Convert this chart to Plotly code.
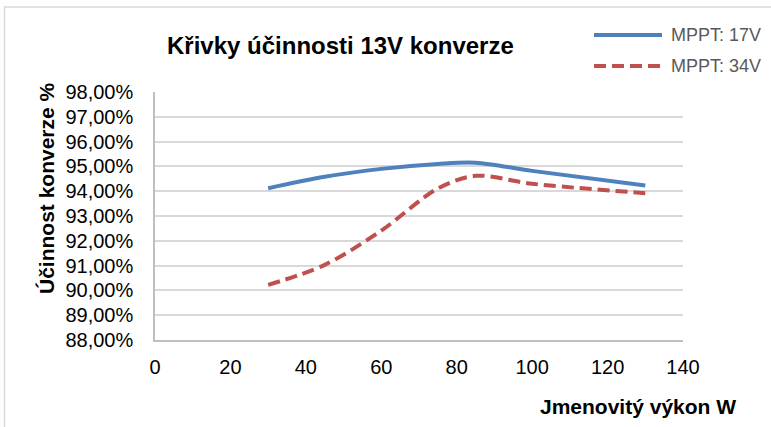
import plotly.graph_objects as go

# Load (W) at which efficiency was measured
load_w = [30, 45, 60, 75, 85, 100, 130]

# Conversion efficiency in %, MPPT 17 V and MPPT 34 V
eff_17v = [94.12, 94.58, 94.90, 95.10, 95.15, 94.82, 94.23]
eff_34v = [90.22, 91.03, 92.41, 94.11, 94.62, 94.30, 93.92]

series_names = ["MPPT: 17V", "MPPT: 34V"]
series_colors = ["#4f81bd", "#c0504d"]
series_dash = ["solid", "12px,6px"]

y_ticks = [88, 89, 90, 91, 92, 93, 94, 95, 96, 97, 98]
x_ticks = [0, 20, 40, 60, 80, 100, 120, 140]

FONT = "Liberation Sans, Arial, sans-serif"

W, H = 771, 427
ML, MR, MT, MB = 155, 88, 92, 87
PW, PH = W - ML - MR, H - MT - MB


def px_x(px):
    return (px - ML) / PW


def px_y(py):
    return (H - MB - py) / PH


fig = go.Figure()
for ys, name, col, dash in zip([eff_17v, eff_34v], series_names, series_colors, series_dash):
    fig.add_trace(go.Scatter(
        x=load_w, y=ys, name=name, mode="lines",
        line=dict(color=col, width=4, dash=dash, shape="spline", smoothing=0.9),
        showlegend=False,
    ))

# outer chart frame
fig.add_shape(type="rect", xref="paper", yref="paper",
              x0=px_x(4.5), x1=px_x(W + 10), y0=px_y(H + 10), y1=px_y(7),
              line=dict(color="#d9d9d9", width=1.5), fillcolor="rgba(0,0,0,0)", layer="below")

# legend drawn at the top right
legend_rows = [35, 66]
for row_y, name, col, dash in zip(legend_rows, series_names, series_colors, series_dash):
    fig.add_shape(type="line", xref="paper", yref="paper",
                  x0=px_x(594), x1=px_x(662), y0=px_y(row_y), y1=px_y(row_y),
                  line=dict(color=col, width=4, dash=dash))
    fig.add_annotation(xref="paper", yref="paper", x=px_x(669), y=px_y(row_y),
                       xanchor="left", yanchor="middle", showarrow=False, text=name,
                       font=dict(family=FONT, size=18, color="#595959"))

fig.add_annotation(xref="paper", yref="paper", x=px_x(340), y=px_y(45),
                   xanchor="center", yanchor="middle", showarrow=False,
                   text="<b>Křivky účinnosti 13V konverze</b>",
                   font=dict(family=FONT, size=24, color="#000000"))

fig.add_annotation(xref="paper", yref="paper", x=px_x(738), y=px_y(407),
                   xanchor="right", yanchor="middle", showarrow=False,
                   text="<b>Jmenovitý výkon W</b>",
                   font=dict(family=FONT, size=21, color="#000000"))

fig.add_annotation(xref="paper", yref="paper", x=px_x(46), y=px_y(188),
                   xanchor="center", yanchor="middle", showarrow=False, textangle=-90,
                   text="<b>Účinnost konverze %</b>",
                   font=dict(family=FONT, size=21, color="#000000"))

fig.update_layout(
    width=W, height=H,
    margin=dict(l=ML, r=MR, t=MT, b=MB),
    paper_bgcolor="white", plot_bgcolor="white",
    separators=", ",
    font=dict(family=FONT, size=20, color="#000000"),
)
fig.update_xaxes(
    range=[0, 140], tickvals=x_ticks, ticktext=[str(v) for v in x_ticks],
    showgrid=False, zeroline=False,
    showline=True, linecolor="#bfbfbf", linewidth=1.5,
    ticks="", ticklabelstandoff=8,
    tickfont=dict(family=FONT, size=20, color="#000000"),
)
fig.update_yaxes(
    range=[88, 98], tickvals=y_ticks,
    ticktext=[f"{v:.2f}".replace(".", ",") + "%" for v in y_ticks],
    showgrid=True, gridcolor="#d9d9d9", gridwidth=1.5, zeroline=False,
    showline=True, linecolor="#bfbfbf", linewidth=1.5,
    ticks="", ticklabelstandoff=16,
    tickfont=dict(family=FONT, size=20, color="#000000"),
)

fig.write_html("out.html")
